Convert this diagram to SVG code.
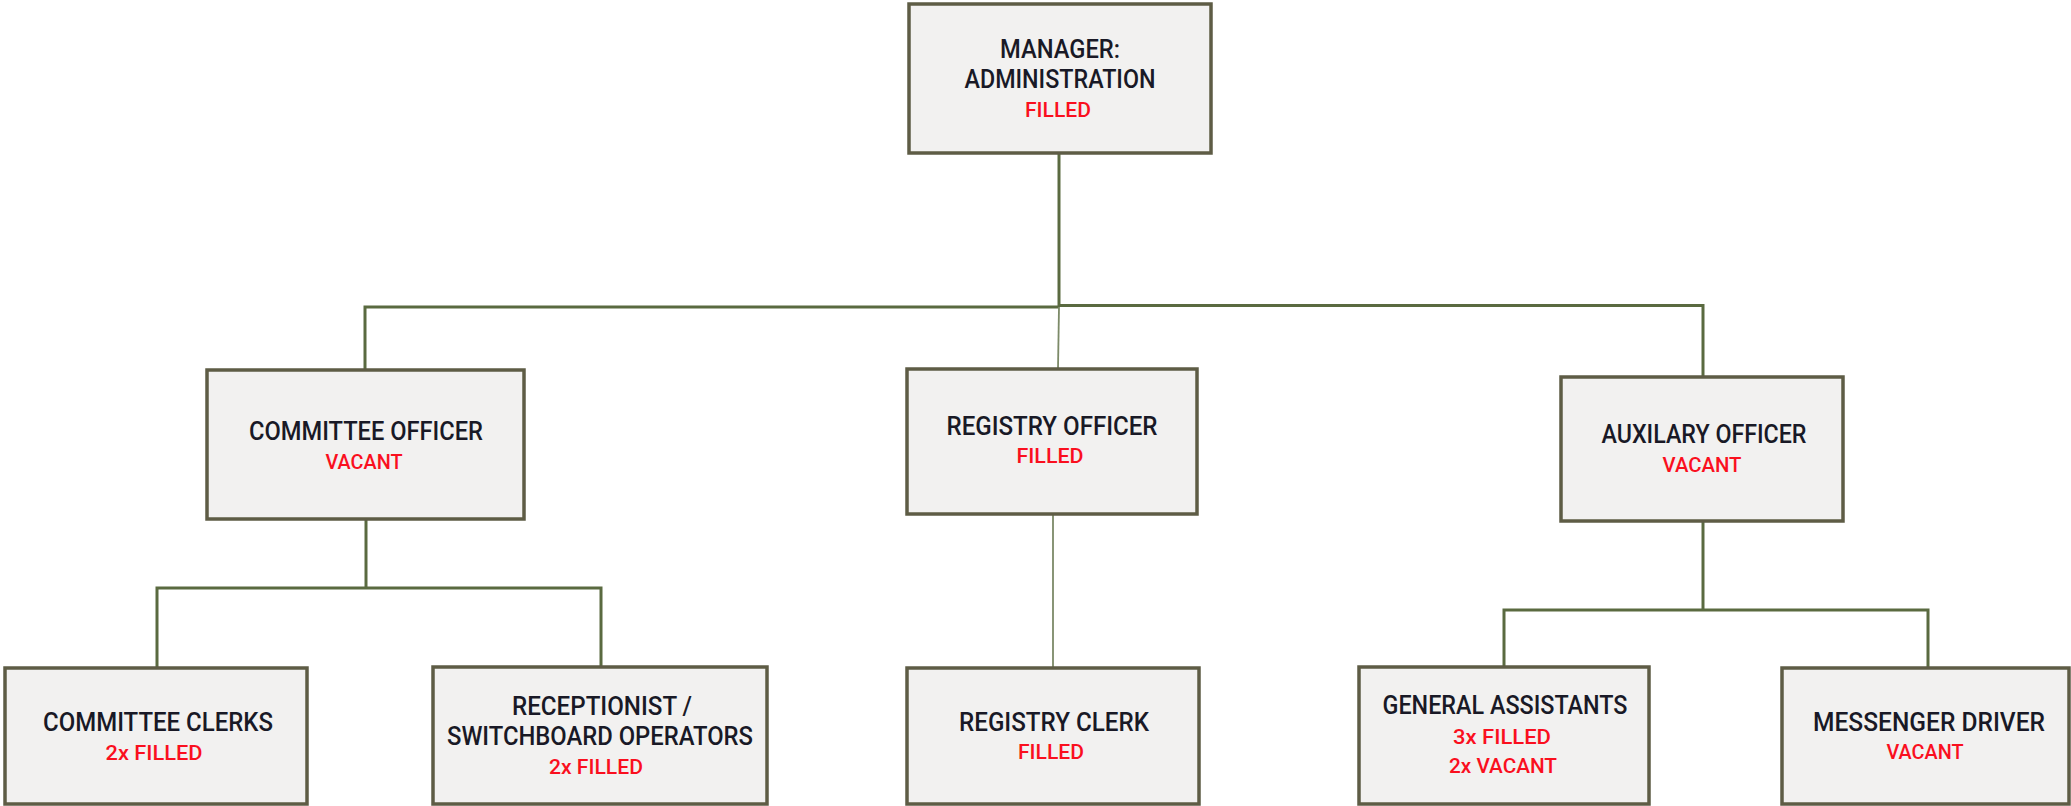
<svg xmlns="http://www.w3.org/2000/svg" width="2071" height="806" viewBox="0 0 2071 806">
  <style>
    .box { fill: #f2f1f0; stroke: #5e5c45; stroke-width: 3.5; }
    .title { font-family: Roboto, "Liberation Sans", sans-serif; font-size: 25px; font-weight: 500; fill: #191926; text-anchor: middle; }
    .status { font-family: Roboto, "Liberation Sans", sans-serif; font-size: 21px; font-weight: 500; fill: #fa0f1e; text-anchor: middle; }
    .link { fill: none; stroke: #5a6a40; stroke-width: 3; }
    .link-thin { fill: none; stroke: #7c8a68; stroke-width: 1.8; }
  </style>

  <!-- Reporting lines -->
  <g id="connectors">
    <path class="link" d="M1059 153 V307"/>
    <path class="link" d="M365 370 V307 H1059"/>
    <path class="link" d="M1059 305.5 H1703 V377"/>
    <path class="link-thin" d="M1059 307 L1058 369"/>
    <path class="link-thin" d="M1053 514 V668"/>
    <path class="link" d="M366 520 V588"/>
    <path class="link" d="M157 668 V588 H601 V667"/>
    <path class="link" d="M1703 521 V610"/>
    <path class="link" d="M1504 667 V610 H1928 V668"/>
  </g>

  <g id="manager-administration">
    <rect class="box" x="909" y="4" width="302" height="149"/>
    <text class="title" x="1060" y="58" textLength="120" lengthAdjust="spacingAndGlyphs">MANAGER:</text>
    <text class="title" x="1060" y="88" textLength="191" lengthAdjust="spacingAndGlyphs">ADMINISTRATION</text>
    <text class="status" x="1058" y="117" textLength="66" lengthAdjust="spacingAndGlyphs">FILLED</text>
  </g>

  <g id="committee-officer">
    <rect class="box" x="207" y="370" width="317" height="149"/>
    <text class="title" x="366" y="440" textLength="234" lengthAdjust="spacingAndGlyphs">COMMITTEE OFFICER</text>
    <text class="status" x="364" y="469" textLength="77" lengthAdjust="spacingAndGlyphs">VACANT</text>
  </g>

  <g id="registry-officer">
    <rect class="box" x="907" y="369" width="290" height="145"/>
    <text class="title" x="1052" y="435" textLength="211" lengthAdjust="spacingAndGlyphs">REGISTRY OFFICER</text>
    <text class="status" x="1050" y="463" textLength="67" lengthAdjust="spacingAndGlyphs">FILLED</text>
  </g>

  <g id="auxilary-officer">
    <rect class="box" x="1561" y="377" width="282" height="144"/>
    <text class="title" x="1704" y="443" textLength="205" lengthAdjust="spacingAndGlyphs">AUXILARY OFFICER</text>
    <text class="status" x="1702" y="472" textLength="79" lengthAdjust="spacingAndGlyphs">VACANT</text>
  </g>

  <g id="committee-clerks">
    <rect class="box" x="5" y="668" width="302" height="136"/>
    <text class="title" x="158" y="731" textLength="230" lengthAdjust="spacingAndGlyphs">COMMITTEE CLERKS</text>
    <text class="status" x="154" y="760" textLength="97" lengthAdjust="spacingAndGlyphs">2x FILLED</text>
  </g>

  <g id="receptionist-switchboard">
    <rect class="box" x="433" y="667" width="334" height="137"/>
    <text class="title" x="602" y="715" textLength="180" lengthAdjust="spacingAndGlyphs">RECEPTIONIST /</text>
    <text class="title" x="600" y="745" textLength="306" lengthAdjust="spacingAndGlyphs">SWITCHBOARD OPERATORS</text>
    <text class="status" x="596" y="774" textLength="94" lengthAdjust="spacingAndGlyphs">2x FILLED</text>
  </g>

  <g id="registry-clerk">
    <rect class="box" x="907" y="668" width="292" height="136"/>
    <text class="title" x="1054" y="731" textLength="190" lengthAdjust="spacingAndGlyphs">REGISTRY CLERK</text>
    <text class="status" x="1051" y="759" textLength="66" lengthAdjust="spacingAndGlyphs">FILLED</text>
  </g>

  <g id="general-assistants">
    <rect class="box" x="1359" y="667" width="290" height="137"/>
    <text class="title" x="1505" y="714" textLength="245" lengthAdjust="spacingAndGlyphs">GENERAL ASSISTANTS</text>
    <text class="status" x="1502" y="744" textLength="98" lengthAdjust="spacingAndGlyphs">3x FILLED</text>
    <text class="status" x="1503" y="773" textLength="108" lengthAdjust="spacingAndGlyphs">2x VACANT</text>
  </g>

  <g id="messenger-driver">
    <rect class="box" x="1782" y="668" width="287" height="136"/>
    <text class="title" x="1929" y="731" textLength="232" lengthAdjust="spacingAndGlyphs">MESSENGER DRIVER</text>
    <text class="status" x="1925" y="759" textLength="77" lengthAdjust="spacingAndGlyphs">VACANT</text>
  </g>
</svg>
